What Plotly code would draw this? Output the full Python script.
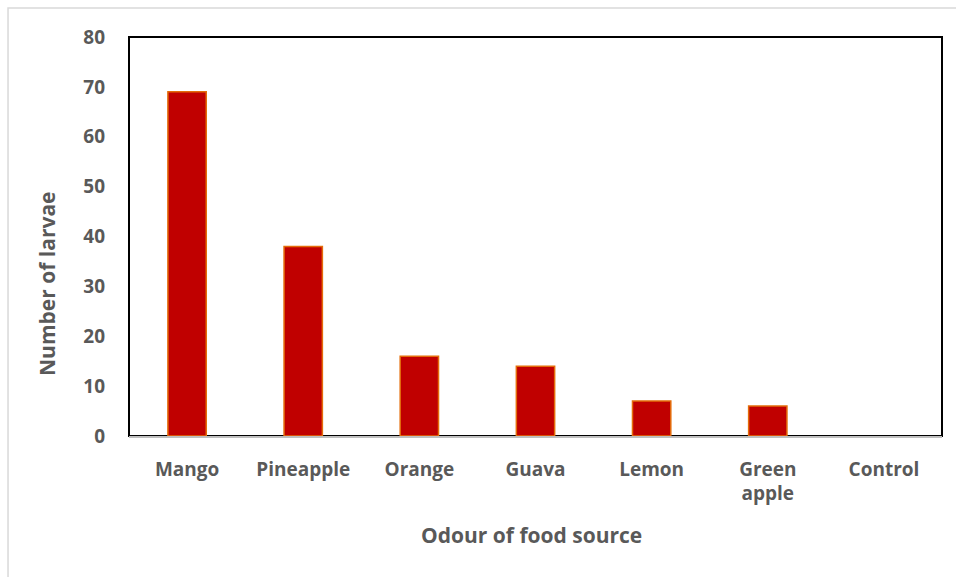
import plotly.graph_objects as go

# Larval attraction counts per odour source
categories = ["Mango", "Pineapple", "Orange", "Guava", "Lemon", "Green<br>apple", "Control"]
larvae = [69, 38, 16, 14, 7, 6, 0]
y_ticks = [0, 10, 20, 30, 40, 50, 60, 70, 80]

TEXT = "#595959"
FONT = "Open Sans"

# no outline on empty bars, so a zero count leaves no mark
outline_widths = [1.5 if v > 0 else 0 for v in larvae]

fig = go.Figure(
    go.Bar(
        x=categories,
        y=larvae,
        width=0.33,
        marker=dict(color="#C00000", line=dict(color="#E46C0A", width=outline_widths)),
    )
)

fig.update_layout(
    width=956,
    height=577,
    margin=dict(l=129, r=14, t=37, b=141),
    paper_bgcolor="white",
    plot_bgcolor="white",
    showlegend=False,
    font=dict(family=FONT, color=TEXT),
)

fig.update_xaxes(
    showgrid=False,
    showline=True,
    linecolor="#BFBFBF",
    linewidth=1.5,
    ticks="",
    ticklabelstandoff=15,
    tickfont=dict(family=FONT, size=19, color=TEXT, weight="bold"),
)

fig.update_yaxes(
    range=[0, 80],
    tickvals=y_ticks,
    showgrid=False,
    zeroline=False,
    showline=False,
    ticks="",
    ticklabelstandoff=23,
    tickfont=dict(family=FONT, size=19, color=TEXT, weight="bold"),
)

# Axis titles
fig.add_annotation(
    text="<b>Odour of food source</b>", xref="paper", yref="paper",
    x=0.4945, y=-0.248, xanchor="center", yanchor="middle", showarrow=False,
    font=dict(family=FONT, size=21, color=TEXT),
)
fig.add_annotation(
    text="<b>Number of larvae</b>", xref="paper", yref="paper",
    x=-0.1009, y=0.381, xanchor="center", yanchor="middle",
    textangle=-90, showarrow=False,
    font=dict(family=FONT, size=21, color=TEXT),
)

# Plot-area frame (top, left, right in black)
fig.add_shape(
    type="rect", xref="paper", yref="paper",
    x0=0, x1=1, y0=0, y1=1,
    line=dict(color="black", width=2), layer="below",
)

# Light outer chart border
fig.add_shape(
    type="rect", xref="paper", yref="paper",
    x0=-0.1488, x1=1.2, y0=-0.5, y1=1.0727,
    line=dict(color="#D9D9D9", width=1.5), layer="below",
)

fig.write_html("out.html")
